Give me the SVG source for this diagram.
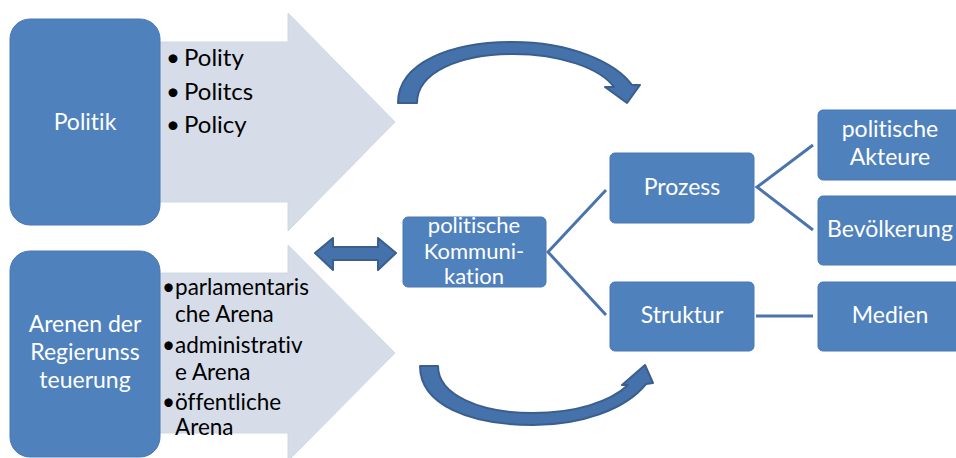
<svg xmlns="http://www.w3.org/2000/svg" width="956" height="458" viewBox="0 0 956 458">
<style>
.box{fill:#4f81bd;stroke:#4a78b2;stroke-width:1}
.big{fill:#d6dde9;stroke:#d0d8e6;stroke-width:1}
.curve{fill:#4572aa;stroke:#3a5f8e;stroke-width:2;stroke-linejoin:round}
text{font-variant-ligatures:none;font-feature-settings:"liga" 0}
.wt{font-family:Lato,"Open Sans",sans-serif;fill:#ffffff;text-anchor:middle}
.bt{font-family:Lato,"Open Sans",sans-serif;fill:#000000}
.con{stroke:#4a74ab;stroke-width:3;fill:none}
</style>
<g id="arrow-politik">
<polygon class="big" points="160,42 288,42 288,13 395,122 288,231 288,202 160,202"/>
<text class="bt" font-size="24"><tspan x="166" y="66">•</tspan><tspan x="184" y="66">Polity</tspan></text>
<text class="bt" font-size="24"><tspan x="166" y="100">•</tspan><tspan x="184" y="100">Politcs</tspan></text>
<text class="bt" font-size="24"><tspan x="166" y="133">•</tspan><tspan x="184" y="133">Policy</tspan></text>
</g>
<g id="arrow-arenen">
<polygon class="big" points="160,273 288,273 288,245 395,353 288,461 288,433 160,433"/>
<text class="bt" font-size="22.5"><tspan x="162" y="295">•parlamentaris</tspan><tspan x="175" y="322">che Arena</tspan><tspan x="162" y="353">•administrativ</tspan><tspan x="175" y="380">e Arena</tspan><tspan x="162" y="410">•öffentliche</tspan><tspan x="175" y="435">Arena</tspan></text>
</g>
<g id="politik">
<rect class="box" x="10" y="19" width="150" height="206" rx="20"/>
<text class="wt" font-size="23" x="85" y="130">Politik</text>
</g>
<g id="arenen">
<rect class="box" x="10" y="251" width="150" height="206" rx="20"/>
<text class="wt" font-size="23"><tspan x="85" y="332">Arenen der</tspan><tspan x="85" y="360">Regierunss</tspan><tspan x="85" y="388">teuerung</tspan></text>
</g>
<g id="connectors">
<path class="curve" d="M398,103 C398,62 452,42 513,42 C570,42 615,62 632,85 L640,85 L627,103 L605,87 L614,87 C600,68 560,54 513,54 C460,54 417,72 417,103 Z"/>
<path class="curve" d="M420,366 C420,405 470,425 533,425 C580,425 625,410 646,384 L653,383 L645,365 L622,385 L628,385 C610,402 575,413 533,413 C480,413 438,395 438,366 Z"/>
<polygon class="curve" points="315,253 333,238 333,247 378,247 378,238 396,253 378,270 378,260 333,260 333,270"/>
<polyline class="con" points="606,190 548,252 606,315"/>
<polyline class="con" points="813,145 757,187 813,230"/>
<line class="con" x1="756" y1="316" x2="813" y2="316"/>
</g>
<g id="kommunikation">
<rect class="box" x="403" y="217" width="143" height="70" rx="5"/>
<text class="wt" font-size="22"><tspan x="474" y="233">politische</tspan><tspan x="474" y="259">Kommuni-</tspan><tspan x="474" y="284">kation</tspan></text>
</g>
<g id="prozess">
<rect class="box" x="610" y="153" width="144" height="70" rx="5"/>
<text class="wt" font-size="23" x="682" y="195">Prozess</text>
</g>
<g id="struktur">
<rect class="box" x="610" y="282" width="144" height="69" rx="5"/>
<text class="wt" font-size="23" x="682" y="323">Struktur</text>
</g>
<g id="akteure">
<rect class="box" x="818" y="110" width="146" height="70" rx="5"/>
<text class="wt" font-size="23"><tspan x="890" y="137">politische</tspan><tspan x="890" y="165">Akteure</tspan></text>
</g>
<g id="bevoelkerung">
<rect class="box" x="818" y="196" width="146" height="69" rx="5"/>
<text class="wt" font-size="23" x="890" y="237">Bevölkerung</text>
</g>
<g id="medien">
<rect class="box" x="818" y="282" width="146" height="69" rx="5"/>
<text class="wt" font-size="23" x="890" y="323">Medien</text>
</g>
</svg>
